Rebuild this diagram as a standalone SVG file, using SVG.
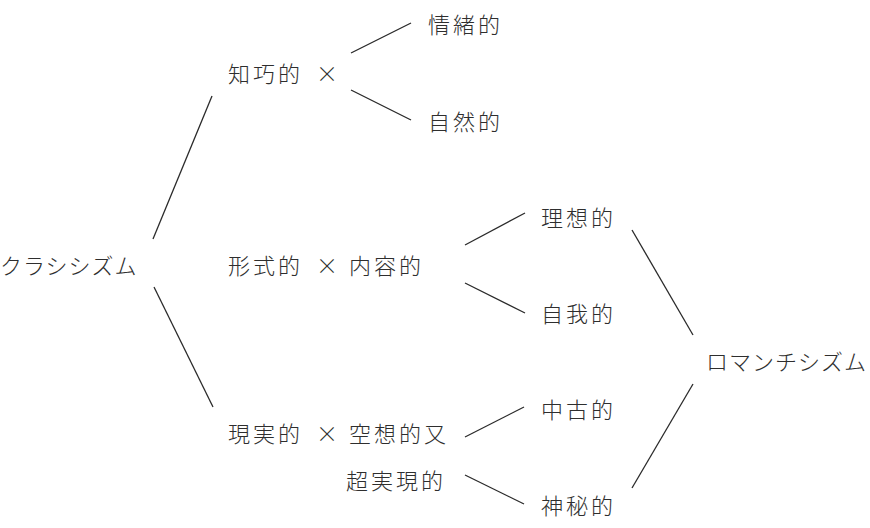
<svg xmlns="http://www.w3.org/2000/svg" width="870" height="528" viewBox="0 0 870 528">
<style>
text{font-family:"Noto Sans CJK JP","Noto Sans CJK SC",sans-serif;font-size:22px;font-weight:300;fill:#2e2e2e;dominant-baseline:central}
.k{letter-spacing:3px}
.t{letter-spacing:1px}
.c line{stroke:#2a2a2a;stroke-width:1.3;fill:none}
</style>
<rect width="870" height="528" fill="#fff"/>
<g id="classicism"><text class="t" x="0" y="264">クラシシズム</text></g>
<g id="n1"><text class="k" x="228" y="72">知巧的<tspan x="316">×</tspan></text></g>
<g id="n1a"><text class="k" x="428" y="23">情緒的</text></g>
<g id="n1b"><text class="k" x="428" y="120">自然的</text></g>
<g id="n2"><text class="k" x="228" y="264">形式的<tspan x="316">×</tspan><tspan x="349">内容的</tspan></text></g>
<g id="n2a"><text class="k" x="541" y="216">理想的</text></g>
<g id="n2b"><text class="k" x="541" y="312">自我的</text></g>
<g id="n3"><text class="k" x="228" y="432">現実的<tspan x="316">×</tspan><tspan x="349">空想的又</tspan></text><text class="k" x="346" y="479">超実現的</text></g>
<g id="n3a"><text class="k" x="541" y="408">中古的</text></g>
<g id="n3b"><text class="k" x="541" y="504">神秘的</text></g>
<g id="romanticism"><text class="t" x="706" y="360">ロマンチシズム</text></g>
<g class="c" id="connectors">
<line x1="153" y1="239" x2="212" y2="96"/>
<line x1="154" y1="287" x2="213" y2="407"/>
<line x1="351" y1="53" x2="411" y2="23"/>
<line x1="351" y1="90" x2="411" y2="120"/>
<line x1="465" y1="245" x2="525" y2="213"/>
<line x1="465" y1="283" x2="525" y2="313"/>
<line x1="465" y1="437" x2="524" y2="407"/>
<line x1="465" y1="475" x2="524" y2="504"/>
<line x1="632" y1="230" x2="693" y2="335"/>
<line x1="693" y1="384" x2="632" y2="488"/>
</g>
</svg>
